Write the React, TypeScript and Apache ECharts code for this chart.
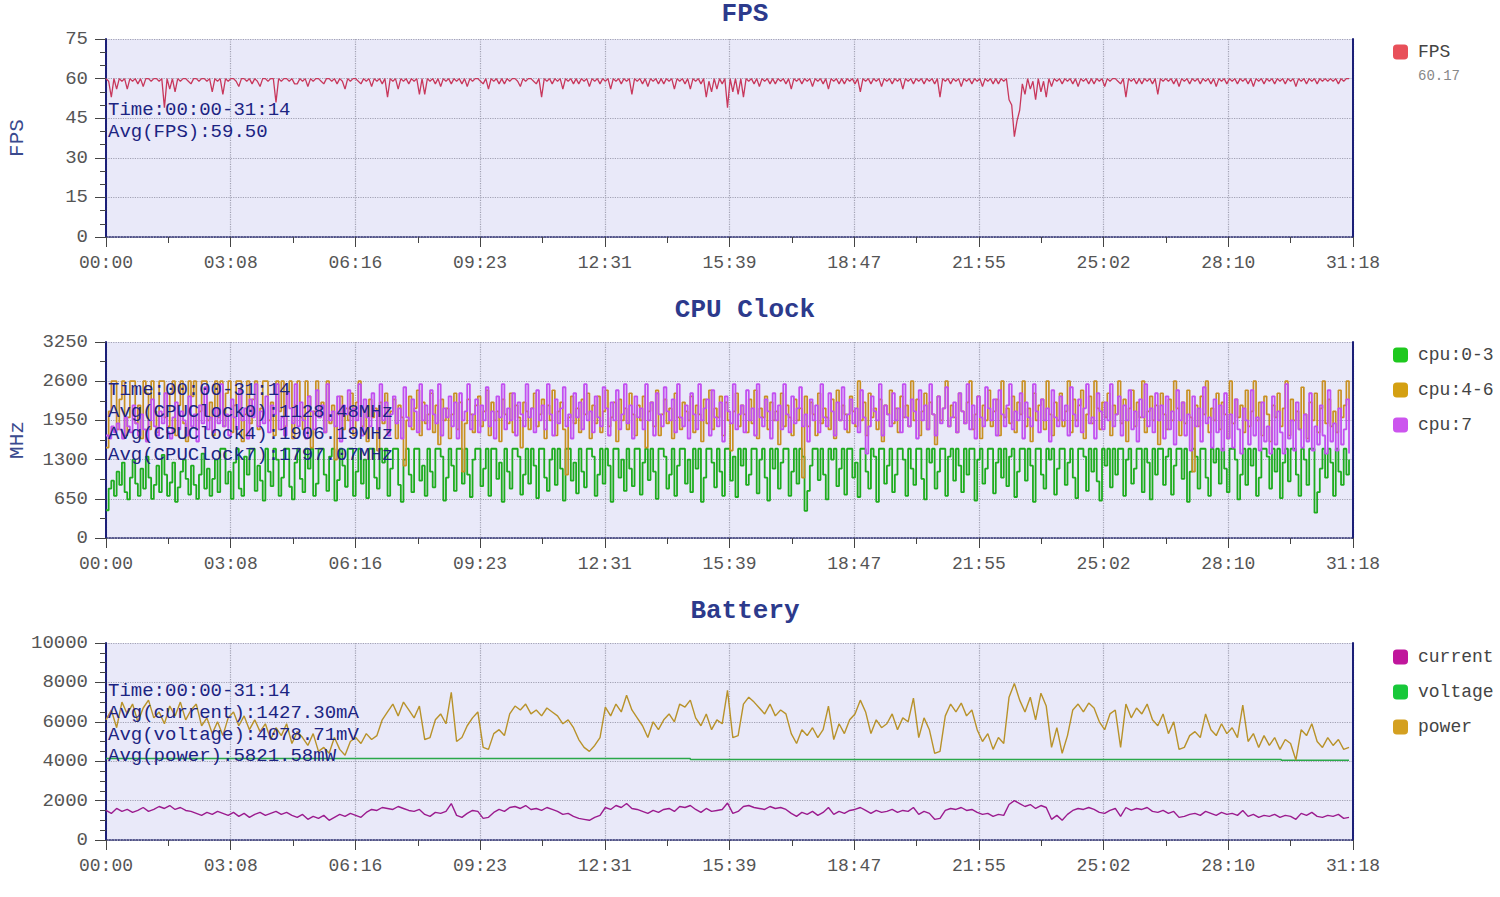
import React, { useEffect, useRef } from "react";
import * as echarts from "echarts";

// ---- time axis ----
const axisMaxSec = 1878; // 31:18
const axisIntervalSec = 187.8;
const fastStepSec = 4; // FPS and CPU samples
const slowStepSec = 8; // battery samples

const chartTitles = ["FPS", "CPU Clock", "Battery"];

const fpsValues = [
  60, 59, 53, 60, 56, 60, 59, 60, 56, 60, 59, 60, 58, 60, 57, 60, 60, 59, 60, 60,
  59, 60, 49, 60, 56, 60, 55, 60, 59, 60, 60, 59, 58, 60, 60, 59, 60, 60, 59, 60,
  55, 60, 59, 60, 54, 60, 59, 60, 60, 59, 57, 60, 60, 59, 60, 58, 60, 59, 57, 60,
  60, 59, 60, 60, 51, 60, 59, 60, 60, 59, 60, 58, 58, 60, 59, 60, 57, 60, 59, 60,
  60, 59, 58, 60, 60, 59, 60, 58, 60, 59, 56, 60, 59, 60, 60, 59, 58, 60, 59, 60,
  57, 60, 59, 60, 58, 60, 53, 60, 59, 60, 56, 60, 59, 60, 58, 60, 59, 60, 54, 60,
  54, 60, 59, 60, 58, 60, 57, 60, 59, 60, 58, 60, 59, 60, 58, 60, 57, 60, 59, 60,
  60, 59, 58, 60, 56, 60, 59, 60, 58, 60, 58, 60, 59, 60, 60, 59, 57, 60, 59, 60,
  60, 59, 58, 60, 53, 60, 59, 60, 58, 60, 59, 60, 56, 60, 59, 60, 58, 60, 58, 60,
  59, 60, 57, 60, 59, 60, 58, 60, 59, 60, 56, 60, 59, 60, 58, 60, 59, 60, 54, 60,
  59, 60, 58, 60, 57, 60, 59, 60, 58, 60, 58, 60, 59, 60, 56, 60, 59, 60, 58, 60,
  56, 60, 59, 60, 58, 60, 53, 59, 55, 60, 56, 60, 58, 60, 49, 60, 55, 60, 54, 60,
  53, 60, 59, 60, 58, 60, 57, 60, 59, 60, 58, 60, 58, 60, 59, 60, 58, 60, 56, 60,
  59, 60, 58, 60, 59, 60, 57, 60, 59, 60, 58, 60, 56, 60, 59, 60, 58, 60, 58, 60,
  59, 60, 58, 60, 55, 60, 59, 60, 58, 60, 59, 60, 57, 60, 59, 60, 58, 60, 59, 60,
  56, 60, 59, 60, 58, 60, 59, 60, 58, 60, 59, 60, 58, 60, 53, 60, 59, 60, 58, 60,
  59, 60, 57, 60, 59, 60, 58, 60, 59, 60, 57, 60, 59, 60, 58, 60, 58, 60, 59, 60,
  52, 50, 38, 44, 48, 58, 54, 60, 56, 59, 52, 60, 55, 59, 53, 60, 57, 60, 59, 60,
  58, 60, 59, 60, 58, 60, 57, 60, 59, 60, 58, 60, 58, 60, 59, 60, 57, 60, 59, 60,
  60, 59, 58, 60, 53, 60, 59, 60, 58, 60, 58, 60, 59, 60, 58, 60, 54, 60, 59, 60,
  59, 60, 58, 60, 57, 60, 59, 60, 58, 60, 59, 60, 58, 60, 59, 60, 58, 60, 57, 60,
  59, 60, 58, 60, 59, 60, 58, 60, 59, 60, 58, 60, 57, 60, 59, 60, 58, 60, 59, 60,
  58, 60, 59, 60, 58, 60, 59, 60, 57, 60, 59, 60, 58, 60, 59, 60, 58, 60, 59, 60,
  59, 60, 59, 60, 58, 60, 59, 60, 60,
];

const cpu03Values = [
  460, 820, 950, 700, 1100, 880, 1250, 760, 640, 1000, 1300, 900, 700, 1150, 820, 1350, 1000, 650, 880, 1200,
  760, 1380, 1050, 700, 920, 1250, 600, 840, 1100, 1300, 980, 720, 1200, 880, 650, 1050, 1400, 820, 1150, 700,
  980, 1300, 760, 1480, 1480, 900, 1100, 650, 1250, 1480, 820, 700, 1350, 1050, 1480, 1480, 780, 1200, 950, 620,
  1480, 1100, 860, 1480, 1300, 700, 1000, 1480, 1480, 850, 640, 1250, 1480, 980, 760, 1480, 1150, 1480, 700, 900,
  1480, 1480, 1050, 780, 1350, 1480, 620, 960, 1480, 1200, 850, 1480, 1480, 700, 1100, 1480, 900, 1300, 660, 1480,
  1480, 1000, 820, 1480, 1250, 1480, 700, 1150, 1480, 1480, 880, 600, 1300, 1480, 1050, 760, 1480, 1480, 950, 1200,
  700, 1480, 1100, 840, 1480, 1480, 1350, 620, 1000, 1480, 1200, 780, 1480, 1480, 900, 1480, 1050, 680, 1300, 1480,
  1480, 860, 1150, 1480, 700, 1480, 1480, 980, 1250, 600, 1480, 1100, 820, 1480, 1480, 1350, 720, 1050, 1480, 900,
  1480, 1200, 660, 1480, 1480, 1000, 780, 1300, 1480, 880, 1480, 1150, 620, 1480, 1480, 950, 1250, 740, 1480, 1100,
  840, 1480, 1480, 1350, 700, 1050, 1480, 900, 1480, 1200, 600, 1480, 1480, 1000, 1300, 780, 1480, 1150, 860, 1480,
  1480, 720, 1250, 1480, 960, 1480, 1100, 650, 1480, 1480, 1350, 820, 1050, 1480, 700, 1200, 1480, 1480, 900, 1300,
  760, 1480, 1150, 1480, 600, 1000, 1480, 1480, 1250, 840, 1480, 1100, 700, 1480, 1480, 950, 1350, 680, 1480, 1200,
  1480, 880, 1050, 1480, 1480, 740, 1300, 1480, 1000, 620, 1480, 1150, 1480, 820, 1250, 1480, 1480, 700, 1100, 1480,
  900, 1480, 1350, 450, 780, 1200, 1480, 1480, 960, 1480, 1050, 640, 1480, 1300, 1480, 860, 1150, 1480, 720, 1480,
  1480, 1000, 1250, 680, 1480, 1480, 1100, 820, 1480, 1350, 600, 1480, 1480, 900, 1200, 1480, 760, 1050, 1480, 1480,
  1300, 700, 1480, 1150, 880, 1480, 1480, 980, 640, 1480, 1250, 1480, 820, 1100, 1480, 1480, 700, 1350, 1480, 950,
  1480, 1200, 760, 1480, 1050, 1480, 1480, 620, 1300, 1480, 900, 1150, 1480, 1480, 740, 1250, 1480, 1000, 1480, 860,
  1350, 1480, 680, 1100, 1480, 1480, 950, 1480, 1200, 600, 1480, 1480, 1050, 820, 1480, 1300, 1480, 720, 1150, 1480,
  1480, 880, 1250, 1480, 1000, 660, 1480, 1480, 1350, 780, 1480, 1100, 1480, 940, 620, 1480, 1200, 1480, 840, 1480,
  1050, 1480, 1480, 700, 1300, 1480, 900, 1150, 1480, 1480, 760, 1480, 1250, 640, 1480, 1050, 1480, 1480, 880, 1350,
  1480, 720, 1200, 1480, 1480, 980, 1480, 600, 1100, 1480, 1350, 820, 1480, 1480, 1000, 700, 1480, 1250, 1480, 900,
  1480, 1150, 760, 1480, 1480, 1300, 640, 1050, 1480, 880, 1480, 1200, 1480, 700, 1000, 1480, 1480, 1350, 820, 1480,
  1100, 1480, 660, 1250, 1480, 940, 1480, 1480, 1050, 700, 1480, 1300, 880, 1480, 1480, 420, 760, 1150, 1480, 1000,
  1480, 1250, 700, 1480, 1100, 880, 1480, 1050, 1300,
];

const cpu46Values = [
  1500, 2100, 2600, 2600, 1800, 2300, 2600, 1700, 2000, 2600, 2600, 1900, 2200, 1650, 2600, 2400, 1800, 2600, 2100, 1750,
  2600, 2600, 2000, 1850, 2400, 2600, 1700, 2200, 2600, 1900, 1600, 2600, 2350, 2600, 1800, 2100, 2600, 2600, 1950, 2250,
  1700, 2600, 2000, 2600, 1850, 2400, 2600, 1750, 2200, 2600, 2600, 1600, 2050, 2600, 1900, 2300, 2600, 1800, 2150, 2600,
  2600, 1950, 2250, 1700, 2600, 2100, 2600, 1850, 2400, 2600, 1650, 2200, 2600, 2000, 1800, 2600, 2350, 1500, 2100, 2600,
  2000, 2250, 1750, 2600, 1900, 2200, 1300, 2050, 2350, 1800, 2150, 1950, 2400, 1700, 2250, 2600, 1850, 2100, 1600, 2300,
  2000, 2150, 1450, 2250, 1900, 2400, 1750, 2100, 2300, 1650, 2200, 2000, 1200, 1950, 2350, 1800, 2150, 2450, 1700, 2250,
  1900, 2050, 2400, 1750, 2200, 1550, 2300, 1950, 2150, 1650, 2050, 2400, 1800, 2250, 1100, 1900, 2300, 2050, 1750, 2200,
  2350, 1850, 2100, 2450, 1700, 2250, 1950, 2100, 1600, 2300, 2050, 1900, 2400, 1750, 2200, 2000, 1500, 2250, 2100, 1800,
  2150, 2400, 1850, 2050, 2300, 1650, 2200, 1950, 2450, 1700, 2100, 2250, 1800, 1050, 2000, 2350, 1900, 2150, 1750, 2300,
  2050, 2400, 1650, 2200, 1900, 2350, 1750, 2100, 2450, 1850, 2000, 2250, 1600, 2300, 1950, 2150, 1800, 2400, 2050, 1700,
  2200, 1950, 2350, 1500, 2100, 2250, 1850, 2450, 1700, 2050, 2300, 1900, 2150, 1650, 2400, 2000, 1800, 2250, 2100, 1950,
  2350, 1750, 2200, 2050, 1600, 2300, 1900, 2450, 1800, 2150, 2000, 2350, 1700, 2250, 1950, 1450, 2100, 2400, 1850, 2200,
  2050, 1750, 2300, 1900, 2450, 1650, 2150, 2000, 2350, 1800, 2250, 1950, 2100, 1550, 2400, 1850, 2200, 2000, 1700, 2300,
  1950, 2150, 1000, 2350, 1850, 2250, 2050, 1700, 2400, 1900, 2150, 2000, 1800, 2300, 1650, 2450, 1950, 2200, 2050, 1750,
  2350, 2100, 1850, 2600, 1950, 2250, 1700, 2400, 2000, 2150, 1800, 2300, 1600, 2200, 2050, 2450, 1900, 2150, 1750, 2350,
  2000, 2200, 1850, 2600, 1950, 2300, 1700, 2100, 2400, 1800, 2250, 2050, 1550, 2350, 1950, 2150, 2600, 1850, 2200, 2000,
  1750, 2400, 2100, 1900, 2250, 2600, 1800, 2050, 2350, 1650, 2200, 1950, 2450, 1850, 2100, 2300, 1700, 2600, 2000, 2150,
  1900, 2350, 1750, 2250, 2050, 2600, 1850, 2150, 1600, 2400, 1950, 2200, 2300, 1800, 2600, 2050, 1700, 2250, 1950, 2400,
  1850, 2100, 2600, 1750, 2300, 1950, 2200, 2450, 1650, 2050, 2350, 1900, 2600, 2150, 1800, 2250, 2000, 2400, 1700, 2200,
  2050, 2600, 1900, 2300, 1600, 2150, 2450, 1850, 2250, 2000, 2600, 1750, 2100, 2350, 1950, 2200, 1550, 2400, 2050, 1800,
  2300, 1950, 2600, 2150, 1700, 2250, 1900, 2450, 2000, 1100, 2200, 1850, 2350, 2050, 2600, 1750, 2150, 1950, 2400, 1800,
  2250, 2050, 1650, 2600, 1900, 2300, 2000, 2200, 1750, 2450, 1850, 2100, 2600, 1950, 2250, 1700, 2350, 2050, 1600, 2200,
  2000, 2400, 1850, 2150, 2600, 1700, 2300, 1950, 2100, 1800, 2500, 2050, 1650, 2250, 1950, 2400, 1750, 2150, 2600, 1900,
  2300, 1850, 2100, 1750, 2450, 2000, 2200, 2600, 1950,
];

const cpu7Values = [
  1700, 1650, 1850, 1750, 1900, 1800, 1650, 2000, 1850, 1750, 2200, 1900, 1700, 2050, 1800, 1600, 1950, 2300, 1850, 1700,
  2100, 1900, 2400, 1750, 1650, 2000, 2250, 1800, 2100, 1950, 1700, 2350, 1850, 2050, 1600, 2200, 1900, 2500, 1800, 2000,
  1750, 2150, 1900, 2550, 1850, 2050, 1700, 2300, 2000, 1800, 2450, 1950, 2150, 1650, 2300, 2000, 2550, 1850, 2100, 1900,
  2350, 1750, 2200, 2050, 2550, 1800, 2000, 1700, 2400, 2150, 1900, 2550, 1850, 2250, 1950, 1650, 2350, 2100, 1800, 2450,
  2000, 2200, 1750, 2550, 1950, 2100, 1850, 2350, 1600, 2200, 2050, 2450, 1800, 2150, 1950, 2550, 1700, 2300, 2000, 1850,
  2400, 2100, 1800, 2550, 1950, 2250, 1700, 2050, 2350, 1900, 2150, 1650, 2500, 2000, 1850, 2300, 2100, 1750, 2550, 1950,
  2200, 1800, 2450, 2050, 1900, 2550, 1700, 2150, 2000, 2350, 1850, 2250, 1650, 2400, 1950, 2100, 2550, 1800, 2050, 2300,
  1750, 2200, 1950, 2500, 1850, 2100, 1650, 2350, 2000, 2550, 1800, 2150, 1950, 2400, 1700, 2250, 2050, 1850, 2550, 2000,
  2150, 1750, 2450, 1950, 2200, 1800, 2550, 2050, 1700, 2300, 1900, 2150, 2500, 1850, 2050, 1650, 2400, 2000, 2250, 1800,
  2550, 1950, 2100, 1750, 2350, 2000, 1850, 2500, 2150, 1700, 2250, 1950, 2450, 1800, 2050, 2550, 1900, 2200, 1650, 2350,
  2000, 2150, 1800, 2550, 1950, 2250, 1700, 2400, 2050, 1850, 2500, 2100, 1950, 2300, 1750, 2550, 2000, 1850, 2200, 1650,
  2400, 2050, 1800, 2550, 1950, 2150, 2300, 1700, 2450, 2000, 1850, 2250, 1600, 2350, 2100, 1900, 2550, 1800, 2050, 2200,
  1750, 2450, 1950, 2150, 1700, 2550, 2000, 1850, 2300, 2100, 1650, 2400, 1950, 2200, 1800, 2550, 2050, 1750, 2350, 1900,
  2150, 2500, 1850, 2050, 1600, 2300, 1950, 2200, 1750, 2550, 2000, 1850, 2400, 2100, 1700, 2250, 1950, 2500, 1800, 2050,
  2300, 1900, 2150, 1750, 2450, 2000, 1400, 1850, 2350, 2100, 1950, 2550, 1700, 2200, 2050, 1850, 2400, 1950, 2150, 1750,
  2550, 2000, 1850, 2300, 2100, 1650, 2450, 1950, 2200, 1800, 2550, 2050, 1700, 2350, 1900, 2150, 2500, 1850, 2000, 2250,
  1750, 2400, 2100, 1900, 2550, 1800, 2200, 1650, 2350, 2000, 1850, 2500, 2150, 1950, 2300, 1700, 2450, 2050, 1850, 2200,
  2550, 1800, 2100, 1950, 2400, 1650, 2250, 2000, 1850, 2550, 2100, 1750, 2300, 1950, 2150, 1600, 2450, 2000, 1850, 2350,
  1950, 2200, 1700, 2500, 2050, 1850, 2300, 1750, 2150, 2550, 1900, 2000, 1650, 2400, 2100, 1800, 2250, 1950, 2550, 1850,
  2050, 2350, 1700, 2200, 1950, 2450, 1800, 2100, 1600, 2300, 2000, 2550, 1850, 2150, 1750, 2400, 1950, 2200, 1650, 2350,
  1800, 2100, 1550, 2450, 1950, 2250, 1700, 2050, 1450, 2350, 1850, 2150, 1600, 2500, 1900, 2000, 1500, 2300, 1750, 2200,
  1450, 2400, 1650, 2050, 1500, 2300, 1800, 1400, 2150, 1950, 1550, 2450, 1700, 2000, 1450, 2250, 1600, 1850, 1400, 2350,
  1550, 2100, 1750, 1400, 2550, 1650, 1950, 1450, 2250, 1800, 1500, 2050, 1600, 2400, 1450, 1850, 1550, 2200, 1700, 1400,
  2450, 1600, 1900, 1450, 2150, 1550, 1800, 2300, 1400,
];

const powerValues = [
  6100, 6600, 5700, 7000, 6400, 6900, 6000, 6700, 7100, 6200, 6500, 5900, 6800, 6300, 7000, 6100, 6600, 6900, 5800, 6200,
  5400, 6000, 5300, 6200, 6500, 5800, 6300, 5600, 6100, 5500, 5900, 5100, 5700, 5300, 5900, 4900, 5500, 5200, 4800, 5400,
  4500, 4700, 4400, 5200, 4600, 4300, 5000, 5200, 4900, 5400, 5100, 5300, 6100, 6500, 6900, 6300, 7000, 6600, 6200, 6800,
  5100, 5200, 6100, 6400, 5900, 7500, 5000, 5200, 5800, 6200, 6500, 4700, 4600, 5400, 5600, 5300, 6400, 6800, 6600, 6900,
  6400, 6600, 6300, 6700, 6500, 6300, 5900, 6100, 5700, 5100, 4700, 4500, 4800, 5200, 6750, 6300, 6900, 6500, 7350, 6600,
  6200, 5800, 5200, 6000, 5600, 6100, 6400, 6000, 6900, 6750, 7100, 6200, 5800, 6400, 5600, 6100, 5900, 7600, 5200, 5300,
  6900, 7250, 7000, 6700, 6400, 6900, 6300, 6600, 6400, 5400, 4900, 5600, 5300, 5700, 5200, 5600, 6800, 5100, 5900, 5400,
  6100, 6400, 7100, 6500, 5400, 6100, 5700, 5900, 6400, 5600, 6200, 6000, 7200, 5200, 6200, 5600, 4400, 4500, 6300, 6900,
  6500, 6950, 6300, 6600, 5600, 5000, 5400, 4600, 5200, 4900, 7250, 7950, 7100, 6500, 7250, 6100, 7450, 6800, 4700, 5700,
  4400, 5300, 6600, 6900, 6500, 6950, 6700, 6000, 5600, 6400, 6600, 4700, 6900, 6200, 6700, 6400, 6900, 6100, 5800, 6400,
  5400, 6000, 4600, 4700, 5300, 5500, 5200, 6400, 5600, 5300, 5900, 5400, 5700, 5200, 6850, 5000, 5400, 4700, 5300, 4800,
  5200, 4600, 5100, 4900, 4060, 5600, 5300, 5900, 5000, 4700, 5200, 4800, 5100, 4600, 4700,
];

const currentValues = [
  1500, 1350, 1600, 1450, 1550, 1400, 1500, 1650, 1450, 1550, 1700, 1600, 1750, 1550, 1650, 1500, 1450, 1350, 1250, 1400,
  1300, 1450, 1350, 1250, 1400, 1200, 1350, 1150, 1300, 1400, 1250, 1350, 1450, 1300, 1400, 1250, 1150, 1300, 1050, 1200,
  1100, 1250, 1000, 1150, 1300, 1200, 1350, 1250, 1150, 1400, 1550, 1500, 1650, 1600, 1550, 1700, 1600, 1500, 1450, 1550,
  1300, 1200, 1400, 1350, 1450, 1850, 1250, 1150, 1350, 1500, 1450, 1100, 1150, 1400, 1550, 1450, 1650, 1700, 1600, 1750,
  1550, 1600, 1500, 1650, 1550, 1450, 1300, 1350, 1200, 1100, 1050, 1000, 1150, 1250, 1650, 1550, 1750, 1650, 1850, 1600,
  1550, 1450, 1350, 1500, 1400, 1550, 1600, 1450, 1700, 1650, 1750, 1550, 1400, 1600, 1450, 1500, 1550, 1880, 1350, 1450,
  1700, 1750, 1650, 1600, 1550, 1700, 1600, 1650, 1550, 1350, 1200, 1400, 1300, 1450, 1250, 1400, 1650, 1300, 1450, 1350,
  1500, 1550, 1650, 1500, 1350, 1500, 1400, 1450, 1550, 1400, 1500, 1450, 1650, 1300, 1450, 1350, 1050, 1100, 1500, 1600,
  1550, 1650, 1500, 1550, 1400, 1300, 1350, 1200, 1300, 1250, 1800, 2000, 1850, 1700, 1800, 1600, 1750, 1650, 1050, 1250,
  1000, 1300, 1500, 1600, 1550, 1650, 1550, 1400, 1350, 1500, 1600, 1200, 1650, 1500, 1600, 1550, 1650, 1450, 1400, 1500,
  1350, 1450, 1150, 1200, 1300, 1350, 1250, 1450, 1350, 1250, 1400, 1300, 1350, 1250, 1500, 1200, 1300, 1150, 1250, 1200,
  1300, 1150, 1250, 1200, 1050, 1350, 1250, 1400, 1200, 1150, 1250, 1200, 1300, 1100, 1150,
];

// voltage changes only in small steps: [seconds, mV]
const voltageTimes = [0, 880, 1770, 1872];
const voltageValues = [4140, 4090, 4050, 4050];

const fpsLegendValue = "60.17";
const fpsNotes = ["Time:00:00-31:14", "Avg(FPS):59.50"];
const cpuNotes = [
  "Time:00:00-31:14",
  "Avg(CPUClock0):1128.48MHz",
  "Avg(CPUClock4):1906.19MHz",
  "Avg(CPUClock7):1797.07MHz",
];
const batteryNotes = [
  "Time:00:00-31:14",
  "Avg(current):1427.30mA",
  "Avg(voltage):4078.71mV",
  "Avg(power):5821.58mW",
];

const FONT = "Liberation Mono";
const NAVY = "#1b1f78";

const toPairs = (vals: number[], step: number) => vals.map((v, i) => [i * step, v]);

const fmtTime = (v: number) => {
  const s = Math.round(v);
  const m = Math.floor(s / 60);
  const r = s % 60;
  return String(m).padStart(2, "0") + ":" + String(r).padStart(2, "0");
};

const grids = [
  { top: 39, height: 198 },
  { top: 342, height: 196 },
  { top: 643, height: 197 },
];

export default function App() {
  const ref = useRef<HTMLDivElement>(null);
  useEffect(() => {
    if (!ref.current) return;
    const chart = echarts.init(ref.current, undefined, { renderer: "svg" });

    const gridDefs = grids.map((g) => ({
      left: 106,
      width: 1247,
      top: g.top,
      height: g.height,
      show: true,
      backgroundColor: "#e9e9f9",
      borderWidth: 0,
      containLabel: false,
      outerBoundsMode: "none",
    }));

    const xAxes = grids.map((_, k) => ({
      type: "value",
      gridIndex: k,
      min: 0,
      max: axisMaxSec,
      interval: axisIntervalSec,
      axisLine: { show: true, lineStyle: { color: "#2a2d6e", width: 1.5, type: "dotted" } },
      axisTick: { show: true, length: 10, lineStyle: { color: "#444" } },
      minorTick: { show: true, splitNumber: 2, length: 6, lineStyle: { color: "#444" } },
      axisLabel: { color: "#555", fontSize: 18, fontFamily: FONT, margin: 17, formatter: fmtTime, showMaxLabel: true, showMinLabel: true },
      splitLine: { show: true, lineStyle: { color: "#a2a2b4", type: "dotted", width: 1.2 } },
    }));

    const yDefs = [
      { max: 75, interval: 15, minor: 3, name: "FPS" },
      { max: 3250, interval: 650, minor: 2, name: "MHz" },
      { max: 10000, interval: 2000, minor: 4, name: "" },
    ];
    const yAxes: any[] = [];
    yDefs.forEach((d, k) => {
      yAxes.push({
        type: "value",
        gridIndex: k,
        min: 0,
        max: d.max,
        interval: d.interval,
        name: d.name,
        nameLocation: "middle",
        nameGap: 78,
        nameTextStyle: { color: "#3a4a8e", fontSize: 21, fontFamily: FONT },
        axisLine: { show: true, lineStyle: { color: NAVY, width: 2 } },
        axisTick: { show: true, length: 11, lineStyle: { color: "#444" } },
        minorTick: { show: true, splitNumber: d.minor, length: 6, lineStyle: { color: "#444" } },
        axisLabel: { color: "#555", fontSize: 19, fontFamily: FONT, margin: 18, formatter: (v: number) => String(v) },
        splitLine: { show: true, lineStyle: { color: "#a2a2b4", type: "dotted", width: 1.2 } },
      });
    });
    yDefs.forEach((d, k) => {
      yAxes.push({
        type: "value",
        gridIndex: k,
        position: "right",
        min: 0,
        max: d.max,
        interval: d.interval,
        axisLine: { show: true, lineStyle: { color: NAVY, width: 2 } },
        axisTick: { show: false },
        axisLabel: { show: false },
        splitLine: { show: false },
      });
    });

    const lineSeries = (name: string, data: any[], grid: number, line: string, icon: string, width = 1.2, step: any = false, z = 2) => ({
      name,
      type: "line",
      xAxisIndex: grid,
      yAxisIndex: grid,
      data,
      step,
      showSymbol: false,
      symbol: "none",
      z,
      lineStyle: { color: line, width },
      itemStyle: { color: icon },
      emphasis: { disabled: true },
    });

    const series = [
      lineSeries("FPS", toPairs(fpsValues, fastStepSec), 0, "#c8385c", "#e8505a", 1.3),
      lineSeries("cpu:0-3", toPairs(cpu03Values, fastStepSec), 1, "#1eac1e", "#1ec81e", 1.8, "end", 2),
      lineSeries("cpu:4-6", toPairs(cpu46Values, fastStepSec), 1, "#c89022", "#d4a012", 1.7, "end", 3),
      lineSeries("cpu:7", toPairs(cpu7Values, fastStepSec), 1, "#c250f0", "#cc55ee", 1.8, "end", 4),
      lineSeries("current", toPairs(currentValues, slowStepSec), 2, "#9b1b8e", "#c0169c", 1.4),
      lineSeries("voltage", voltageTimes.map((t, i) => [t, voltageValues[i]]), 2, "#2aa84a", "#18c83a", 1.5, "end"),
      lineSeries("power", toPairs(powerValues, slowStepSec), 2, "#b8922a", "#d4a020", 1.4),
    ];

    const legendBase = {
      orient: "vertical",
      left: 1388,
      itemWidth: 15,
      itemHeight: 15,
      itemGap: 17,
      icon: "roundRect",
      selectedMode: false,
      textStyle: { color: "#444", fontSize: 18, fontFamily: FONT, padding: [0, 0, 0, 5] },
    };
    const legends = [
      { ...legendBase, top: 38, data: ["FPS"] },
      { ...legendBase, top: 341, data: ["cpu:0-3", "cpu:4-6", "cpu:7"] },
      { ...legendBase, top: 643, data: ["current", "voltage", "power"] },
    ];

    const graphics: any[] = [];
    const titleYs = [14, 310, 611];
    chartTitles.forEach((t, k) => {
      graphics.push({
        type: "text",
        x: 745,
        y: titleYs[k],
        z: 100,
        style: { text: t, fill: "#2c3a8c", font: `bold 26px '${FONT}'`, textAlign: "center", textVerticalAlign: "middle" },
      });
    });
    const noteBlocks = [
      { lines: fpsNotes, y: 110 },
      { lines: cpuNotes, y: 390 },
      { lines: batteryNotes, y: 691 },
    ];
    noteBlocks.forEach((b) => {
      b.lines.forEach((l, i) => {
        graphics.push({
          type: "text",
          x: 108,
          y: b.y + i * 21.8,
          z: 100,
          style: { text: l, fill: "#1c2482", font: `19px '${FONT}'`, textAlign: "left", textVerticalAlign: "middle" },
        });
      });
    });
    graphics.push({
      type: "text",
      x: 1418,
      y: 76,
      z: 100,
      style: { text: fpsLegendValue, fill: "#888", font: `14px '${FONT}'`, textAlign: "left", textVerticalAlign: "middle" },
    });

    chart.setOption({
      animation: false,
      backgroundColor: "#ffffff",
      textStyle: { fontFamily: FONT },
      grid: gridDefs,
      xAxis: xAxes,
      yAxis: yAxes,
      legend: legends,
      series,
      graphic: graphics,
    });
    return () => chart.dispose();
  }, []);

  return <div ref={ref} style={{ position: "absolute", left: 0, top: 0, width: 1500, height: 897 }} />;
}
